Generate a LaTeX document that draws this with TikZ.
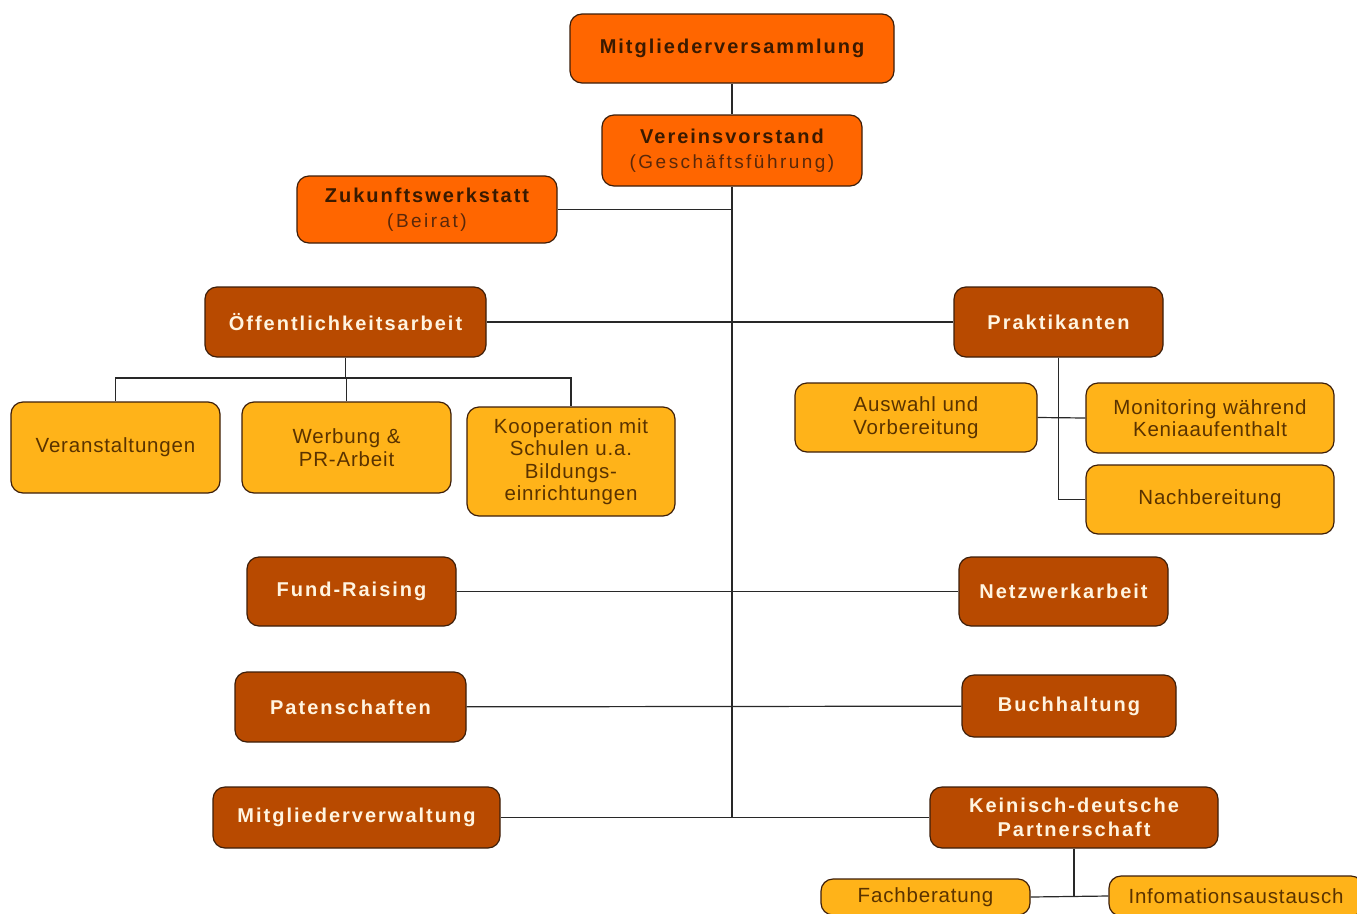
\documentclass[tikz,border=0pt]{standalone}
\usepackage{fontspec}
\setmainfont{Liberation Sans}
\newfontfamily\bsp{Liberation Sans}[LetterSpace=10]
\newfontfamily\psp{Liberation Sans}[LetterSpace=13]
\newfontfamily\ysp{Liberation Sans}[LetterSpace=4]
\definecolor{orng}{RGB}{255,102,0}
\definecolor{brwn}{RGB}{184,74,0}
\definecolor{yllw}{RGB}{255,179,25}
\definecolor{otext}{RGB}{58,26,0}
\definecolor{ptext}{RGB}{90,40,10}
\definecolor{btext}{RGB}{255,244,224}
\definecolor{ytext}{RGB}{90,51,0}
\definecolor{edge}{RGB}{60,30,10}
\definecolor{wire}{RGB}{40,40,40}
\begin{document}
\begin{tikzpicture}[x=1pt,y=-1pt,
  basebox/.style={draw=edge, line width=1.2pt, rounded corners=12pt, inner sep=0pt, align=center, anchor=center},
  obox/.style={basebox, fill=orng, text=otext, font=\bsp\bfseries\fontsize{20}{24.5}\selectfont},
  bbox/.style={basebox, fill=brwn, text=btext, font=\bsp\bfseries\fontsize{20}{24.5}\selectfont},
  ybox/.style={basebox, fill=yllw, text=ytext, font=\ysp\fontsize{20.5}{22.5}\selectfont},
  wirel/.style={draw=wire, line width=1.2pt}]
\useasboundingbox (0,0) rectangle (1357,913);
\fill[white] (0,0) rectangle (1357,913);
% nodes
\node[obox, minimum width=324, minimum height=69] (mv) at (732,48.5) {Mitgliederversammlung};
\node[obox, minimum width=260, minimum height=71] (vor) at (732,150.5) {Vereinsvorstand\\{\psp\mdseries\fontsize{19}{24.5}\selectfont\color{ptext}(Geschäftsführung)}};
\node[obox, minimum width=260, minimum height=67] (zuk) at (427,209.5) {Zukunftswerkstatt\\{\psp\mdseries\fontsize{19}{24.5}\selectfont\color{ptext}(Beirat)}};
\node[bbox, minimum width=281, minimum height=70] (oef) at (345.5,322) {Öffentlichkeitsarbeit};
\node[bbox, minimum width=209, minimum height=70] (prakt) at (1058.5,322) {Praktikanten};
\node[ybox, minimum width=209, minimum height=91] (vera) at (115.5,447.5) {Veranstaltungen};
\node[ybox, minimum width=209, minimum height=91] (werb) at (346.5,447.5) {Werbung \&\\PR-Arbeit};
\node[ybox, minimum width=208, minimum height=109] (koop) at (571,461.5) {Kooperation mit\\Schulen u.a.\\Bildungs-\\einrichtungen};
\node[ybox, minimum width=242, minimum height=69] (ausw) at (916,417.5) {Auswahl und\\Vorbereitung};
\node[ybox, minimum width=248, minimum height=70] (moni) at (1210,418) {Monitoring während\\Keniaaufenthalt};
\node[ybox, minimum width=248, minimum height=69] (nach) at (1210,499.5) {Nachbereitung};
\node[bbox, minimum width=209, minimum height=69] (fund) at (351.5,591.5) {Fund-Raising};
\node[bbox, minimum width=209, minimum height=69] (netz) at (1063.5,591.5) {Netzwerkarbeit};
\node[bbox, minimum width=231, minimum height=70] (pat) at (350.5,707) {Patenschaften};
\node[bbox, minimum width=214, minimum height=62] (buch) at (1069,706) {Buchhaltung};
\node[bbox, minimum width=287, minimum height=61] (mverw) at (356.5,817.5) {Mitgliederverwaltung};
\node[bbox, minimum width=288, minimum height=61] (kdp) at (1074,817.5) {Keinisch-deutsche\\Partnerschaft};
\node[ybox, minimum width=209, minimum height=36] (fach) at (925.5,897) {Fachberatung};
\node[ybox, minimum width=254, minimum height=40] (info) at (1236,896) {Infomationsaustausch};
% connectors
\coordinate (spineend) at (vor.south |- mverw.east);
\coordinate (bus) at (oef.south |- 0,378);
\coordinate (pbend) at (prakt.south |- nach.west);
\coordinate (kjoin) at (kdp.south |- fach.east);
\draw[wirel] (mv) -- (vor);
\draw[wirel] (vor.south) -- (spineend);
\draw[wirel] (zuk.east) -- (zuk.east -| vor.south);
\draw[wirel] (oef) -- (prakt);
\draw[wirel] (fund) -- (netz);
\draw[wirel] (pat) -- (buch);
\draw[wirel] (mverw) -- (kdp);
\draw[wirel] (oef.south) -- (bus);
\draw[wirel] (vera.north) |- (bus) -| (koop.north);
\draw[wirel] (werb.north) -- (werb.north |- bus);
\draw[wirel] (prakt.south) -- (pbend) -- (nach.west);
\draw[wirel] (ausw.east) -- (moni.west);
\draw[wirel] (kdp.south) -- (kjoin);
\draw[wirel] (fach.east) -- (info.west);
\end{tikzpicture}
\end{document}
